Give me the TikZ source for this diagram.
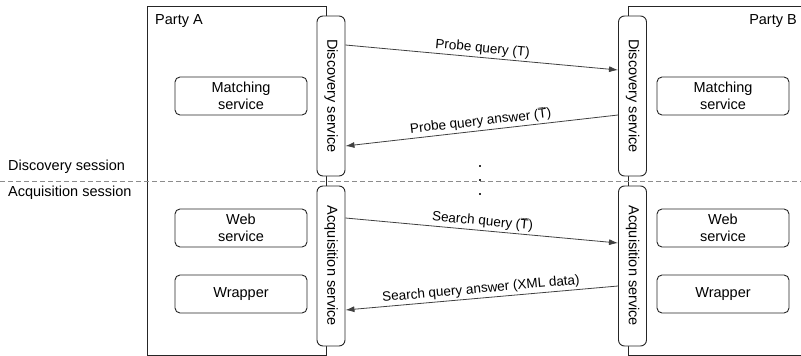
\documentclass[tikz,border=0pt]{standalone}
\usepackage{fontspec}
\setmainfont{Liberation Sans}
\usetikzlibrary{arrows.meta}
\newcommand{\Tbar}{\ensuremath{\overline{\hbox{T}}}}
\tikzset{
  party/.style={draw=black!85, line width=0.9pt},
  svc/.style={draw=black!85, fill=white, line width=0.9pt, rounded corners=6pt,
    rotate=-90, minimum width=160pt, minimum height=28pt, inner sep=0pt,
    font=\fontsize{14.5}{17}\selectfont},
  inbox/.style={draw=black!85, fill=white, line width=0.9pt, rounded corners=5pt,
    minimum width=132pt, minimum height=38pt, inner sep=0pt, align=center,
    font=\fontsize{14.5}{17}\selectfont},
  msg/.style={draw=black!75, line width=0.8pt, -{Latex[length=9pt,width=6pt]}},
  msglabel/.style={sloped, above, inner sep=2pt, font=\fontsize{13.5}{16}\selectfont},
  plain/.style={inner sep=0pt, font=\fontsize{14.5}{17}\selectfont},
  dotmark/.style={fill=black!80, inner sep=0pt, minimum size=1.8pt}
}
\begin{document}
\begin{tikzpicture}[x=1pt,y=-1pt]
\useasboundingbox (0,0) rectangle (801,356);
% party boxes
\draw[party] (147,6) rectangle (326,355);
\draw[party] (628,6) -- (628,355) (628,6) -- (810,6) (628,355) -- (810,355);
\node[plain, anchor=west] (pa) at (155,21) {Party A};
\node[plain, anchor=east] (pb) at (797,21) {Party B};
% session divider
\draw[black!45, line width=0.9pt, dash pattern=on 5pt off 3pt] (0,181) -- (801,181);
\node[plain, anchor=west] (ds) at (8,167) {Discovery session};
\node[plain, anchor=west] (as) at (8,193) {Acquisition session};
% services
\node[svc] (dA) at (331,96) {Discovery service};
\node[svc] (qA) at (331,266) {Acquisition service};
\node[svc] (dB) at (632.5,96) {Discovery service};
\node[svc] (qB) at (632.5,266) {Acquisition service};
% inner boxes
\node[inbox] (mA) at (241,96) {Matching\\service};
\node[inbox] (wA) at (241,228) {Web\\service};
\node[inbox] (rA) at (241,294) {Wrapper};
\node[inbox] (mB) at (723,96) {Matching\\service};
\node[inbox] (wB) at (723,228) {Web\\service};
\node[inbox] (rB) at (723,294) {Wrapper};
% dots
\node[dotmark] (d1) at (480,166) {};
\node[dotmark] (d2) at (480,180) {};
\node[dotmark] (d3) at (480,194) {};
% messages (rotated nodes: north = right side, south = left side)
\draw[msg] ([yshift=51pt]dA.north) -- node[msglabel] {Probe query (T)} ([yshift=26pt]dB.south);
\draw[msg] ([yshift=-19pt]dB.south) -- node[msglabel] {Probe query answer (\Tbar)} ([yshift=-50pt]dA.north);
\draw[msg] ([yshift=48pt]qA.north) -- node[msglabel] {Search query (\Tbar)} ([yshift=23pt]qB.south);
\draw[msg] ([yshift=-20pt]qB.south) -- node[msglabel] {Search query answer (XML data)} ([yshift=-44pt]qA.north);
\end{tikzpicture}
\end{document}
